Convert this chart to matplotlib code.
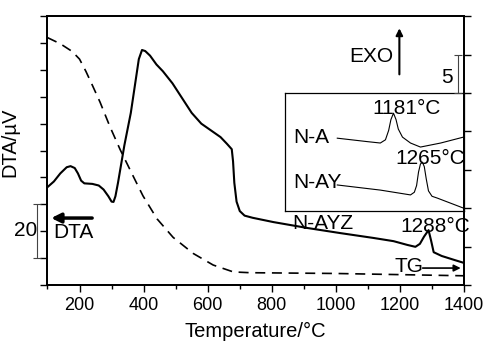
import matplotlib
matplotlib.use('Agg')
import matplotlib.pyplot as plt
from matplotlib.ticker import MultipleLocator, NullFormatter

plt.rcParams['font.family'] = ['Liberation Sans', 'DejaVu Sans']

# DTA of N-AYZ (left axis, uV)
dta_t = [100, 120, 140, 160, 172, 185, 195, 205, 215, 240, 260, 275, 290, 300, 306,
         312, 320, 340, 360, 375, 385, 395, 405, 420, 440, 460, 490, 520, 550, 580,
         610, 640, 660, 675, 679, 683, 690, 700, 715, 740, 805, 911, 1014, 1117,
         1180, 1223, 1248, 1262, 1275, 1289, 1297, 1305, 1330, 1370, 1400]
dta_v = [36.4, 38.5, 41.5, 43.8, 44.2, 43.5, 41.5, 38.8, 37.8, 37.6, 37.0, 35.5, 33.0,
         31.0, 30.9, 33.0, 38.0, 52.0, 64.0, 76.0, 84.0, 87.4, 87.0, 85.3, 82.0, 79.5,
         75.0, 69.5, 64.0, 60.0, 57.5, 55.0, 52.5, 50.5, 46.0, 38.0, 31.0, 27.5, 25.8,
         25.0, 23.4, 21.2, 19.3, 17.5, 16.3, 14.9, 14.2, 15.3, 18.0, 20.4, 16.5, 12.2,
         10.8, 9.3, 8.2]

# TG (right axis, %)
tg_t = [100, 140, 177, 200, 220, 240, 264, 295, 327, 367, 398, 442, 492, 555, 617, 680,
        733, 1000, 1400]
tg_v = [32.2, 31.4, 30.4, 29.4, 27.8, 26.0, 23.8, 20.6, 17.6, 14.2, 11.6, 8.6, 6.2, 4.1,
        2.6, 1.7, 1.6, 1.5, 1.2]

# inset curves
na_t = [1005, 1100, 1139, 1155, 1165, 1172, 1180, 1188, 1195, 1208, 1233, 1264, 1327, 1398]
na_v = [54.6, 53.3, 52.8, 54.0, 57.5, 61.5, 63.9, 61.5, 58.0, 55.0, 52.8, 51.3, 52.8, 55.0]
nay_t = [1005, 1139, 1233, 1245, 1252, 1258, 1264, 1270, 1276, 1282, 1289, 1300, 1317, 1398]
nay_v = [37.2, 35.3, 33.5, 34.5, 37.0, 42.0, 45.0, 45.7, 44.0, 39.5, 35.0, 33.0, 32.3, 28.6]

fig = plt.figure(figsize=(4.87, 3.5), dpi=100)
ax = fig.add_axes([0.0975, 0.1857, 0.8555, 0.7683])
ax2 = ax.twinx()

ax.plot(dta_t, dta_v, color='black', lw=1.5)
ax2.plot(tg_t, tg_v, color='black', lw=1.2, ls=(0, (6, 4)))

ax.set_xlim(100, 1400)
ax.set_ylim(0, 100)
ax2.set_ylim(0, 35)

ax.xaxis.set_major_locator(MultipleLocator(200))
ax.xaxis.set_minor_locator(MultipleLocator(100))
ax.yaxis.set_major_locator(MultipleLocator(20))
ax.yaxis.set_minor_locator(MultipleLocator(10))
ax.yaxis.set_major_formatter(NullFormatter())
ax2.yaxis.set_major_locator(MultipleLocator(5))
ax2.yaxis.set_major_formatter(NullFormatter())
ax.tick_params(axis='x', which='major', direction='out', length=5, width=1, labelsize=13)
ax.tick_params(axis='x', which='minor', direction='out', length=3, width=1)
ax.tick_params(axis='y', which='both', direction='out', length=5, width=1)
ax2.tick_params(axis='y', direction='out', length=5, width=1)
for a in (ax, ax2):
    for s in a.spines.values():
        s.set_linewidth(1.3)

ax.set_xlabel('Temperature/°C', fontsize=14.5, labelpad=6)
ax.set_ylabel('DTA/µV', fontsize=14.5)
ax.yaxis.set_label_coords(-0.067, 0.53)
fig.text(1.018, 0.57, 'TG/%', rotation=90, fontsize=14, ha='center', va='center')

# inset with N-A and N-AY
ins = ax.inset_axes([0.570, 0.275, 0.430, 0.439])
ins.set_facecolor('none')
ins.plot(na_t, na_v, color='black', lw=0.8)
ins.plot(nay_t, nay_v, color='black', lw=0.8)
ins.set_xlim(842, 1400)
ins.set_ylim(27.5, 71.4)
ins.set_xticks([])
ins.set_yticks([])
for s in ins.spines.values():
    s.set_linewidth(0.9)

fs = 15
ax.text(923, 55.0, 'N-A', fontsize=fs, ha='center', va='center')
ax.text(942, 38.3, 'N-AY', fontsize=fs, ha='center', va='center')
ax.text(1220, 65.8, '1181°C', fontsize=fs, ha='center', va='center')
ax.text(1295, 47.2, '1265°C', fontsize=fs, ha='center', va='center')
ax.text(958, 22.7, 'N-AYZ', fontsize=fs, ha='center', va='center')
ax.text(1311, 21.6, '1288°C', fontsize=fs, ha='center', va='center')
ax.text(1110, 84.8, 'EXO', fontsize=fs, ha='center', va='center')
ax.text(1227, 6.7, 'TG', fontsize=fs, ha='center', va='center')
ax.text(180, 19.7, 'DTA', fontsize=fs, ha='center', va='center')
ax.text(31, 20.4, '20', fontsize=fs, ha='center', va='center', clip_on=False)
ax.text(1348, 77.3, '5', fontsize=fs, ha='center', va='center')

# arrows
ax.annotate('', xy=(1198, 96.5), xytext=(1198, 77.3),
            arrowprops=dict(arrowstyle='-|>', color='black', lw=1.5, mutation_scale=10))
ax.annotate('', xy=(103, 24.9), xytext=(248, 24.9),
            arrowprops=dict(arrowstyle='-|>', color='black', lw=2.5, mutation_scale=14))
ax.annotate('', xy=(1398, 6.3), xytext=(1262, 6.3),
            arrowprops=dict(arrowstyle='-|>', color='black', lw=1.2, mutation_scale=10))

# scale bars
ax.errorbar([67], [20], yerr=[10], color='#444444', lw=0.8, capsize=3, capthick=0.8,
            clip_on=False)
ax2.errorbar([1380], [27.5], yerr=[2.5], color='#444444', lw=0.8, capsize=3, capthick=0.8)

fig.savefig('out.png', dpi=100)
